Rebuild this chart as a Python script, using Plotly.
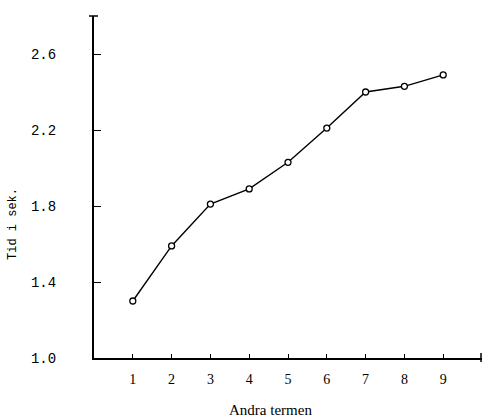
import plotly.graph_objects as go

x_vals = [1, 2, 3, 4, 5, 6, 7, 8, 9]
y_vals = [1.30, 1.59, 1.81, 1.89, 2.03, 2.21, 2.40, 2.43, 2.49]
x_ticks = [1, 2, 3, 4, 5, 6, 7, 8, 9]
y_ticks = [1.0, 1.4, 1.8, 2.2, 2.6]
y_tick_text = ["1.0", "1.4", "1.8", "2.2", "2.6"]
x_title = "Andra termen"
y_title = "Tid i sek."

fig = go.Figure()
fig.add_trace(go.Scatter(
    x=x_vals, y=y_vals, mode="lines+markers",
    line=dict(color="black", width=1.4),
    marker=dict(symbol="circle", size=6, color="white",
                line=dict(color="black", width=1.3)),
    showlegend=False,
))

L, R, T, B = 94, 2, 16, 59
W, H = 484, 417
pw, ph = W - L - R, H - T - B

fig.update_layout(
    width=W, height=H,
    margin=dict(l=L, r=R, t=T, b=B),
    paper_bgcolor="white", plot_bgcolor="white",
    xaxis=dict(
        range=[0, 10], tickmode="array", tickvals=x_ticks,
        ticktext=[str(v) for v in x_ticks],
        ticks="inside", ticklen=4, tickwidth=1.3, tickcolor="black",
        showline=True, linecolor="black", linewidth=2,
        showgrid=False, zeroline=False,
        tickfont=dict(family="Liberation Serif", size=14, color="black"),
        ticklabelstandoff=7,
    ),
    yaxis=dict(
        range=[1.0, 2.8], tickmode="array", tickvals=y_ticks,
        ticktext=y_tick_text,
        ticks="inside", ticklen=7, tickwidth=1.3, tickcolor="black",
        showline=True, linecolor="black", linewidth=2,
        showgrid=False, zeroline=False,
        tickfont=dict(family="Liberation Mono", size=14, color="black"),
        ticklabelstandoff=33,
    ),
    annotations=[
        dict(text=x_title, xref="paper", yref="paper",
             x=(270 - L) / pw, y=(H - B - 410) / ph,
             showarrow=False, xanchor="center", yanchor="middle",
             font=dict(family="Liberation Serif", size=15, color="black")),
        dict(text=y_title, xref="paper", yref="paper",
             x=(13 - L) / pw, y=(H - B - 224) / ph, textangle=-90,
             showarrow=False, xanchor="center", yanchor="middle",
             font=dict(family="Liberation Mono", size=12, color="black")),
    ],
    shapes=[
        dict(type="line", xref="paper", yref="paper",
             x0=-5 / pw, x1=4 / pw, y0=1, y1=1,
             line=dict(color="black", width=1.5)),
        dict(type="line", xref="paper", yref="paper",
             x0=1 - 1 / pw, x1=1 - 1 / pw, y0=-4 / ph, y1=5 / ph,
             line=dict(color="black", width=1.5)),
    ],
)

fig.write_html("out.html",
               config={"displayModeBar": False},
               post_script="document.body.style.margin='0';document.body.style.overflow='hidden';")
